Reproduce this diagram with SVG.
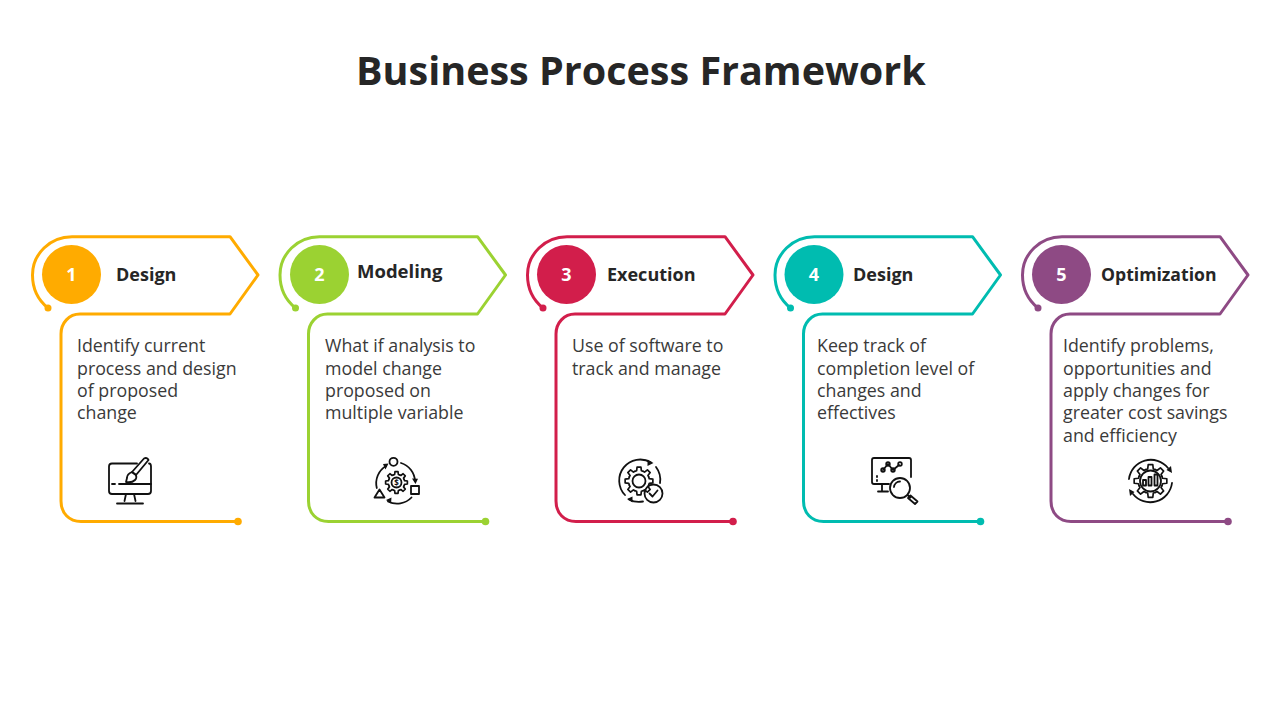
<svg xmlns="http://www.w3.org/2000/svg" xmlns:xlink="http://www.w3.org/1999/xlink" width="1280" height="720" viewBox="0 0 1280 720">
<style>
.frame{fill:none;stroke-width:3;stroke-linejoin:round;stroke-linecap:round}
.title{font:700 39.500px "Open Sans",sans-serif;fill:#262626}
.head{font:700 18px "Open Sans",sans-serif;fill:#262626}
.num{font:700 18px "Open Sans",sans-serif;fill:#fff;text-anchor:middle}
.body{font:400 17.800px "Open Sans",sans-serif;fill:#3a3a3a}
.ic{fill:none;stroke:#111;stroke-width:1.800;stroke-linecap:round;stroke-linejoin:round}
.fa{fill:#111;stroke:none}
</style>
<defs>
<g id="frame">
<path class="frame" d="M48 308C38 300 32.500 288 32.500 275C32.500 254 50 236.700 72 236.700H230L258 275L230 314H80C69 314 61 323 61 334V501C61 513 69 521.500 81 521.500H238"/>
</g>
<g id="gear">
<g id="t"><path d="M-2.870 -6.930L-1.690 -7.310L-1.390 -9.900L1.390 -9.900L1.690 -7.310L2.870 -6.930"/></g>
<use xlink:href="#t" transform="rotate(45)"/><use xlink:href="#t" transform="rotate(90)"/><use xlink:href="#t" transform="rotate(135)"/><use xlink:href="#t" transform="rotate(180)"/><use xlink:href="#t" transform="rotate(225)"/><use xlink:href="#t" transform="rotate(270)"/><use xlink:href="#t" transform="rotate(315)"/>
</g>
</defs>
<rect width="1280" height="720" fill="#fff"/>
<text class="title" x="356" y="85">Business Process Framework</text>

<g id="connectors"></g>

<g id="node-1">
<use xlink:href="#frame" stroke="#FFAB00"/>
<circle cx="48" cy="308" r="3.500" fill="#FFAB00"/><circle cx="238" cy="521.500" r="3.800" fill="#FFAB00"/>
<circle cx="71.500" cy="274.500" r="29.500" fill="#FFAB00"/>
<text class="num" x="71.500" y="281">1</text>
<text class="head" x="116" y="281" font-size="18">Design</text>
<text class="body" x="77" y="352">Identify current</text>
<text class="body" x="77" y="375">process and design</text>
<text class="body" x="77" y="397">of proposed</text>
<text class="body" x="77" y="419">change</text>
<g class="ic">
<path d="M137 463.500H112Q109 463.500 109 466.500V491Q109 494 112 494H148Q151 494 151 491V466.500Q151 463.500 149 463.500"/>
<path d="M112 484H115M119 484H151M126 494L124.500 501M134 494L135.500 501M117 503.500H143"/>
<path d="M144 458.500Q147 457 148.500 460L136 475L132 472Z"/>
<path d="M132 472Q127 474 127 478L126 482Q132 483 135 480Q137 478 136 475Z"/>
</g>
</g>

<g id="node-2">
<use xlink:href="#frame" x="247.500" stroke="#9BD232"/>
<circle cx="295.500" cy="308" r="3.500" fill="#9BD232"/><circle cx="485.500" cy="521.500" r="3.800" fill="#9BD232"/>
<circle cx="319.500" cy="274.500" r="29.500" fill="#9BD232"/>
<text class="num" x="319.500" y="281">2</text>
<text class="head" x="357" y="278" style="font-size:18.500px">Modeling</text>
<text class="body" x="325" y="352">What if analysis to</text>
<text class="body" x="325" y="375">model change</text>
<text class="body" x="325" y="397">proposed on</text>
<text class="body" x="325" y="419">multiple variable</text>
<g class="ic">
<circle cx="393.500" cy="461.800" r="4"/>
<rect x="411" y="486" width="8" height="8"/>
<path d="M379.500 489.500L384.500 497.500H374.500Z"/>
<use xlink:href="#gear" transform="translate(396.500 482.500) scale(1.100)" stroke-width="1.500"/>
<circle cx="396.500" cy="482.500" r="5"/>
<path d="M401 463A20 20 0 0 1 415 481M411.500 497.500A20 20 0 0 1 388 501.500M376.800 488A20 20 0 0 1 386 466"/>
</g>
<path class="fa" d="M415.500 484L412 478.500L418 478.800ZM386 500L391.500 497.500L391 503.500ZM388.500 463.500L383 464L385.500 469.500Z"/>
<text x="396.500" y="485.500" font-family="Open Sans,sans-serif" font-size="8" font-weight="700" fill="#111" text-anchor="middle">$</text>
</g>

<g id="node-3">
<use xlink:href="#frame" x="495" stroke="#D21E4B"/>
<circle cx="543" cy="308" r="3.500" fill="#D21E4B"/><circle cx="733" cy="521.500" r="3.800" fill="#D21E4B"/>
<circle cx="566.500" cy="274.500" r="29.500" fill="#D21E4B"/>
<text class="num" x="566.500" y="281">3</text>
<text class="head" x="607" y="281">Execution</text>
<text class="body" x="572" y="352">Use of software to</text>
<text class="body" x="572" y="375">track and manage</text>
<g class="ic">
<use xlink:href="#gear" transform="translate(639 481) scale(1.400)" stroke-width="1.200"/>
<circle cx="639" cy="481" r="6.500"/>
<path d="M625 495A21 21 0 0 1 651 462.500M656 467A21 21 0 0 1 660 483M643 501.500A21 21 0 0 1 629 499.500"/>
<circle cx="653.500" cy="493.500" r="9"/>
<path d="M649.500 493.500L652.500 496.500L657.500 490.500"/>
</g>
<path class="fa" d="M653.500 463L647.500 459.500L647.500 466ZM627 499L632.500 496.500L632.500 502.500Z"/>
</g>

<g id="node-4">
<use xlink:href="#frame" x="742.500" stroke="#00BCB0"/>
<circle cx="790.500" cy="308" r="3.500" fill="#00BCB0"/><circle cx="980.500" cy="521.500" r="3.800" fill="#00BCB0"/>
<circle cx="814" cy="274.500" r="29.500" fill="#00BCB0"/>
<text class="num" x="814" y="281">4</text>
<text class="head" x="853" y="281">Design</text>
<text class="body" x="817" y="352">Keep track of</text>
<text class="body" x="817" y="375">completion level of</text>
<text class="body" x="817" y="397">changes and</text>
<text class="body" x="817" y="419">effectives</text>
<g class="ic">
<path d="M889 484H874Q872 484 872 482V460Q872 458 874 458H909Q911 458 911 460V477"/>
<path d="M877 476V477M877 480V481"/>
<path d="M883 470L888 464L893 470L899 465"/>
<circle cx="883" cy="470" r="1.800"/><circle cx="888" cy="464" r="1.800"/><circle cx="893" cy="470" r="1.800"/><circle cx="900" cy="464" r="1.800"/>
<path d="M882 484V491M878 491.500H888"/>
<circle cx="900" cy="488" r="10"/>
<path d="M894 487A6 6 0 0 1 900 481.500M907.500 495L910.500 497.500M910.500 495.500L917.500 501.500L915 504L908 498Z"/>
</g>
</g>

<g id="node-5">
<use xlink:href="#frame" x="990" stroke="#8E4A84"/>
<circle cx="1038" cy="308" r="3.500" fill="#8E4A84"/><circle cx="1228" cy="521.500" r="3.800" fill="#8E4A84"/>
<circle cx="1061.500" cy="274.500" r="29.500" fill="#8E4A84"/>
<text class="num" x="1061.500" y="281">5</text>
<text class="head" x="1101" y="281" style="font-size:17.600px">Optimization</text>
<text class="body" x="1063" y="352">Identify problems,</text>
<text class="body" x="1063" y="375">opportunities and</text>
<text class="body" x="1063" y="397">apply changes for</text>
<text class="body" x="1063" y="419">greater cost savings</text>
<text class="body" x="1063" y="442">and efficiency</text>
<g class="ic">
<use xlink:href="#gear" transform="translate(1150.500 481) scale(1.650)" stroke-width="1"/>
<circle cx="1150.500" cy="481" r="10.500"/>
<rect x="1143" y="480" width="3" height="5.500"/>
<rect x="1148.500" y="477" width="3" height="8.500"/>
<rect x="1154.500" y="474.500" width="3" height="11"/>
<path d="M1129 479A22 22 0 0 1 1168 468M1172 483A22 22 0 0 1 1133 494"/>
</g>
<path class="fa" d="M1172 473L1166.500 470L1171 466ZM1129 489L1134.500 492L1130 496Z"/>
</g>
</svg>
